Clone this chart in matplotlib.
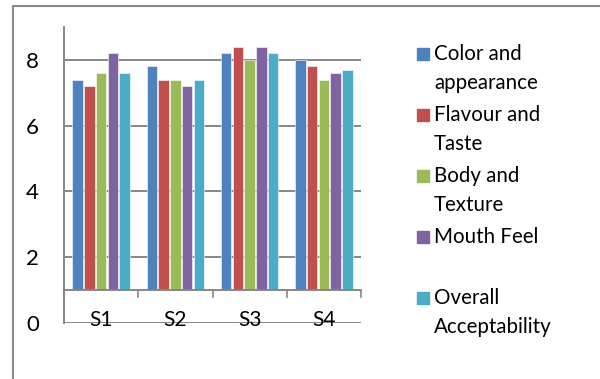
import matplotlib
matplotlib.use("Agg")
import matplotlib.pyplot as plt
from matplotlib.lines import Line2D
from matplotlib.patches import Rectangle

samples = ["S1", "S2", "S3", "S4"]
attributes = ["Color and\nappearance", "Flavour and\nTaste", "Body and\nTexture",
              "Mouth Feel", "Overall\nAcceptability"]
color_appearance = [7.4, 7.8, 8.2, 8.0]
flavour_taste = [7.2, 7.4, 8.4, 7.8]
body_texture = [7.6, 7.4, 8.0, 7.4]
mouth_feel = [8.2, 7.2, 8.4, 7.6]
overall_acceptability = [7.6, 7.4, 8.2, 7.7]
yticks = [0, 2, 4, 6, 8]

series = [color_appearance, flavour_taste, body_texture, mouth_feel, overall_acceptability]
colors = ["#4F81BD", "#C0504D", "#9BBB59", "#8064A2", "#4BACC6"]
grey = "#878787"
base = 1  # category axis crosses the value axis at 1

plt.rcParams["font.family"] = ["Lato", "DejaVu Sans"]

W, H = 600, 379
fig = plt.figure(figsize=(W / 100, H / 100), dpi=100)
ax = fig.add_axes([64 / W, 1 - 323 / H, 297 / W, 296 / H])

pitch = 0.158
width = 0.14
for k, (vals, c) in enumerate(zip(series, colors)):
    xs = [i + (k - 2) * pitch for i in range(len(samples))]
    ax.bar(xs, [v - base for v in vals], width=width, bottom=base, color=c,
           edgecolor="white", linewidth=0.4, zorder=3)

ax.set_xlim(-0.5, len(samples) - 0.5)
ax.set_ylim(0, 9)

# horizontal gridlines (including the one at 0)
for y in yticks:
    ax.axhline(y, color=grey, lw=1.4, zorder=1)

# category axis at y=1 with tick marks between categories
ax.axhline(base, color=grey, lw=1.4, zorder=4)
for b in range(len(samples) + 1):
    ax.plot([b - 0.5, b - 0.5], [base, base - 0.2], color=grey, lw=1.2, zorder=4,
            clip_on=False)

for i, s in enumerate(samples):
    ax.text(i, 0.1, s, ha="center", va="center", fontsize=15, zorder=5)

for side in ["top", "right", "bottom"]:
    ax.spines[side].set_visible(False)
ax.spines["left"].set_color(grey)
ax.spines["left"].set_linewidth(1.4)
ax.set_xticks([])
ax.set_yticks(yticks)
ax.set_yticklabels([str(t) for t in yticks], fontsize=16)
ax.tick_params(axis="y", length=0, pad=18)

# legend, one entry per attribute
y0 = 54
for k, (lab, c) in enumerate(zip(attributes, colors)):
    yc = y0 + k * 61
    fig.patches.append(Rectangle((417 / W, 1 - (yc + 6) / H), 12 / W, 12 / H,
                                 transform=fig.transFigure, color=c))
    for j, line in enumerate(lab.split("\n")):
        fig.text(434 / W, 1 - (yc + j * 29) / H, line, ha="left", va="center",
                 fontsize=14.8)

# outer frame
fig.add_artist(Line2D([13 / W, 13 / W], [0, 1 - 6 / H], color="#8a8a8a", lw=1.5))
fig.add_artist(Line2D([13 / W, 1], [1 - 6 / H, 1 - 6 / H], color="#8a8a8a", lw=1.5))

fig.savefig("out.png", dpi=100)
